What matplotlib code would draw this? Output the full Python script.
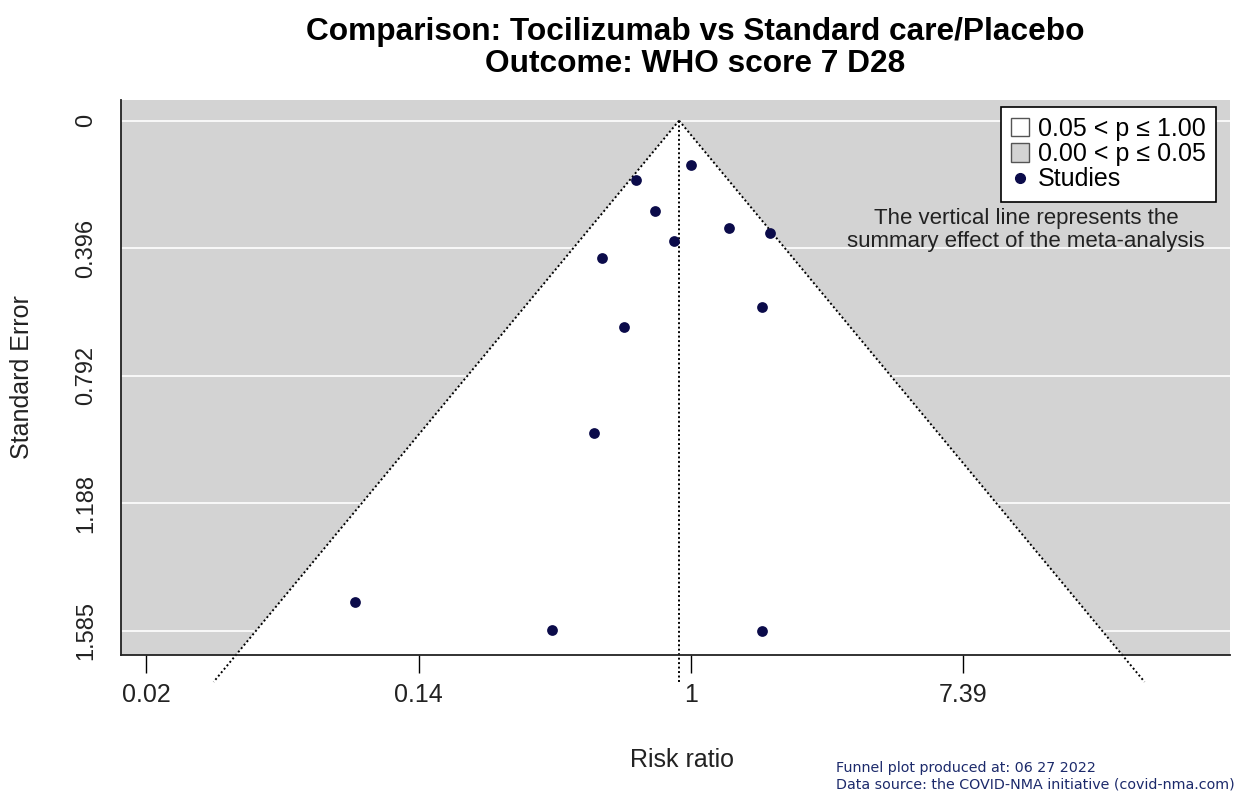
import numpy as np
import matplotlib
matplotlib.use("Agg")
import matplotlib.pyplot as plt
from matplotlib.patches import Patch, Polygon
from matplotlib.lines import Line2D

plt.rcParams['font.family'] = ['Liberation Sans', 'DejaVu Sans']

# Study-level risk ratios and their standard errors (log scale SE)
risk_ratio = [1.00, 0.67, 0.77, 1.32, 1.79, 0.88, 0.52, 1.68, 0.61, 0.49, 0.085, 0.36, 1.68]
std_error = [0.139, 0.186, 0.282, 0.334, 0.350, 0.375, 0.427, 0.579, 0.641, 0.969, 1.494, 1.582, 1.585]

# Pooled (summary) risk ratio from the meta-analysis
summary_rr = 0.916

x_tick_logs = [-4, -2, 0, 2]
x_tick_labels = ["0.02", "0.14", "1", "7.39"]
y_tick_labels = ["0", "0.396", "0.792", "1.188", "1.585"]

title = "Comparison: Tocilizumab vs Standard care/Placebo\nOutcome: WHO score 7 D28"

grey = "#d3d3d3"
point_color = "#0b0b4a"

fig = plt.figure(figsize=(12.52, 8.0), dpi=100)
ax = fig.add_axes([121 / 1252, 1 - 655 / 800, (1230 - 121) / 1252, 555 / 800])
ax.set_facecolor(grey)

se_max = max(std_error)
se_line = 1.1 * se_max
mu = np.log(summary_rr)

ax.set_xscale("log")
ax.set_xlim(np.exp(-4.185), np.exp(3.957))
ax.set_ylim(1.660, -0.064)

yticks = np.linspace(0, se_max, 5)
for yv in yticks:
    ax.axhline(yv, color="white", lw=1.2, zorder=0.5)

# Non-significant region (inside the pseudo-confidence funnel)
se_grid = np.array([0.0, se_line])
left_x = np.exp(mu - 1.96 * se_grid)
right_x = np.exp(mu + 1.96 * se_grid)
funnel = Polygon([(left_x[0], 0.0), (left_x[1], se_line), (right_x[1], se_line)],
                 closed=True, facecolor="white", edgecolor="none", zorder=1)
ax.add_patch(funnel)

dots = (0, (1, 1.3))
ax.plot(left_x, se_grid, color="black", ls=dots, lw=1.4, zorder=2, clip_on=False)
ax.plot(right_x, se_grid, color="black", ls=dots, lw=1.4, zorder=2, clip_on=False)
ax.plot([summary_rr, summary_rr], [0, se_line], color="black", ls=dots, lw=1.4,
        zorder=2, clip_on=False)

ax.scatter(risk_ratio, std_error, s=60, color=point_color, zorder=3, linewidths=0)

ax.set_xticks(np.exp(x_tick_logs))
ax.set_xticklabels(x_tick_labels)
ax.xaxis.set_minor_locator(matplotlib.ticker.NullLocator())
ax.set_yticks(yticks)
ax.set_yticklabels(y_tick_labels, rotation=90, va="center")
ax.tick_params(axis="x", length=13, width=1, labelsize=18, pad=7, colors="black")
ax.tick_params(axis="y", length=0, labelsize=17, pad=17)
for lab in ax.get_xticklabels() + ax.get_yticklabels():
    lab.set_color("#222222")

for side in ("top", "right"):
    ax.spines[side].set_visible(False)
for side in ("left", "bottom"):
    ax.spines[side].set_linewidth(1.3)
    ax.spines[side].set_color("#222222")

fig.text(695 / 1252, 1 - 48 / 800, title, ha="center", va="center",
         fontsize=22.8, fontweight="bold", linespacing=1.1)
fig.text(682 / 1252, 1 - 760 / 800, "Risk ratio", ha="center", va="center", fontsize=18,
         color="#222222")
fig.text(22 / 1252, 1 - 377 / 800, "Standard Error", ha="center", va="center", fontsize=18,
         rotation=90, color="#222222")

ax.text(1026 / 1252, 1 - 230 / 800, "The vertical line represents the\nsummary effect of the meta-analysis",
        transform=fig.transFigure, ha="center", va="center", fontsize=16, color="#222222",
        linespacing=1.15)

handles = [
    Patch(facecolor="white", edgecolor="#555555", lw=1),
    Patch(facecolor=grey, edgecolor="#555555", lw=1),
    Line2D([], [], marker="o", ls="none", color=point_color, markersize=7),
]
labels = ["0.05 < p \u2264 1.00", "0.00 < p \u2264 0.05", "Studies"]
leg = fig.legend(handles, labels, loc="upper right", bbox_to_anchor=(1216 / 1252, 1 - 107 / 800),
                 fontsize=18, frameon=True, fancybox=False, framealpha=1, edgecolor="black",
                 handlelength=0.75, handleheight=0.75, handletextpad=0.35, labelspacing=0.05,
                 borderpad=0.4, borderaxespad=0)
leg.get_frame().set_linewidth(1.2)

foot_color = "#1c2a6b"
fig.text(836 / 1252, 1 - 768 / 800, "Funnel plot produced at: 06 27 2022", ha="left",
         va="center", fontsize=10.3, color=foot_color, family="DejaVu Sans")
fig.text(836 / 1252, 1 - 785 / 800, "Data source: the COVID-NMA initiative (covid-nma.com)",
         ha="left", va="center", fontsize=10.3, color=foot_color, family="DejaVu Sans")

fig.savefig("out.png", dpi=100, facecolor="white")
